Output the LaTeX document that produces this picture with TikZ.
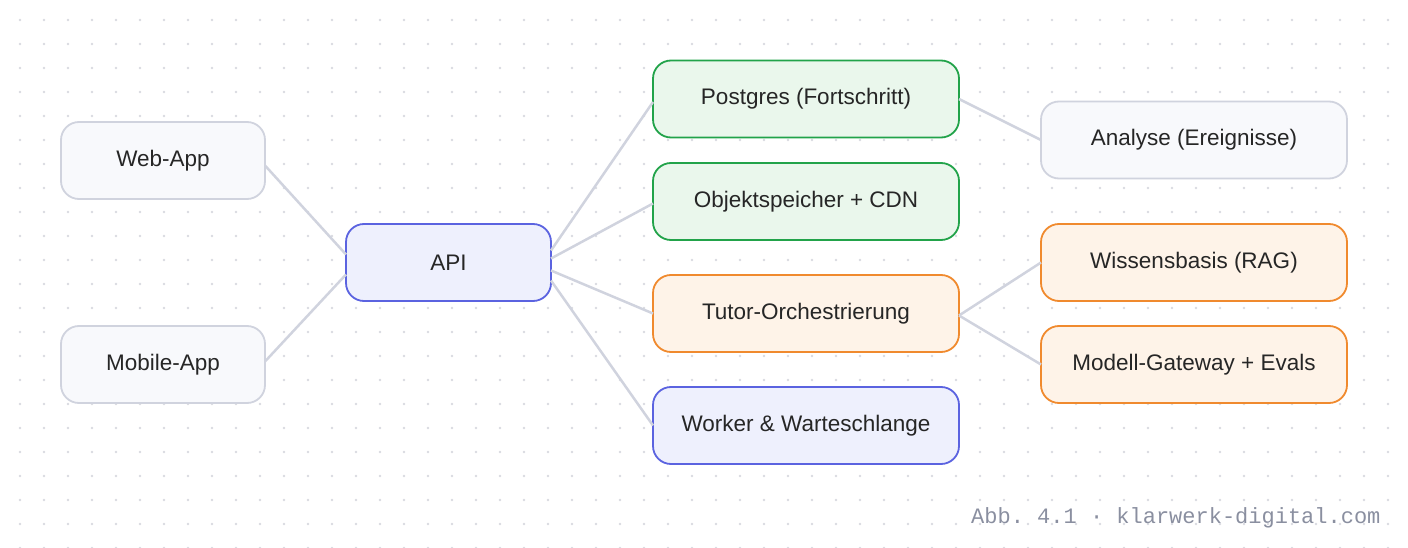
\documentclass[tikz,border=0pt]{standalone}
\usepackage{fontspec}
\setmainfont{Liberation Sans}
\setmonofont{Liberation Mono}
\definecolor{gbd}{HTML}{D0D3DE}\definecolor{gfl}{HTML}{F8F9FC}
\definecolor{bbd}{HTML}{5B63E0}\definecolor{bfl}{HTML}{EEF0FD}
\definecolor{grbd}{HTML}{22A34A}\definecolor{grfl}{HTML}{EAF7EC}
\definecolor{obd}{HTML}{F08A2E}\definecolor{ofl}{HTML}{FEF3E8}
\definecolor{dotc}{HTML}{D8DAE0}\definecolor{capc}{HTML}{8A8FA0}
\begin{document}
\begin{tikzpicture}[x=1pt,y=-1pt,
 box/.style={rounded corners=18pt,line width=1.8pt,minimum height=77pt,outer sep=0pt,font=\fontsize{22.5}{26}\selectfont,text=black!85},
 gb/.style={box,draw=gbd,fill=gfl},
 bb/.style={box,draw=bbd,fill=bfl},
 grb/.style={box,draw=grbd,fill=grfl},
 ob/.style={box,draw=obd,fill=ofl},
 small/.style={minimum width=204pt},
 wide/.style={minimum width=306pt},
 con/.style={draw=gbd,line width=2.5pt}]
\useasboundingbox (0,0) rectangle (1408,548);
\foreach \i in {0,...,57}{\foreach \j in {0,...,22}{\fill[dotc] (20+24*\i,20+24*\j) circle (1.3pt);}}
\node[gb,small] (web) at (163,160.5) {Web-App};
\node[gb,small] (mob) at (163,364.5) {Mobile-App};
\node[bb,minimum width=205pt] (api) at (448.5,262.5) {API};
\node[grb,wide] (pg) at (806,99) {Postgres (Fortschritt)};
\node[grb,wide] (obj) at (806,201.5) {Objektspeicher + CDN};
\node[ob,wide] (tut) at (806,313.5) {Tutor-Orchestrierung};
\node[bb,wide] (wrk) at (806,425.5) {Worker \& Warteschlange};
\node[gb,wide] (ana) at (1194,140) {Analyse (Ereignisse)};
\node[ob,wide] (wis) at (1194,262.5) {Wissensbasis (RAG)};
\node[ob,wide] (mod) at (1194,364.5) {Modell-Gateway + Evals};
\draw[con] ([yshift=-5pt]web.east) -- ([yshift=8pt]api.west);
\draw[con] ([yshift=3pt]mob.east) -- ([yshift=-12pt]api.west);
\draw[con] ([yshift=12pt]api.east) -- ([yshift=-3pt]pg.west);
\draw[con] ([yshift=4pt]api.east) -- ([yshift=-2pt]obj.west);
\draw[con] ([yshift=-8pt]api.east) -- (tut.west);
\draw[con] ([yshift=-18pt]api.east) -- (wrk.west);
\draw[con] (pg.east) -- (ana.west);
\draw[con] ([yshift=-2pt]tut.east) -- (wis.west);
\draw[con] ([yshift=-2pt]tut.east) -- (mod.west);
\node[anchor=east,text=capc,font=\ttfamily\fontsize{22}{26}\selectfont] (cap) at (1384,518) {Abb. 4.1 · klarwerk-digital.com};
\end{tikzpicture}
\end{document}
